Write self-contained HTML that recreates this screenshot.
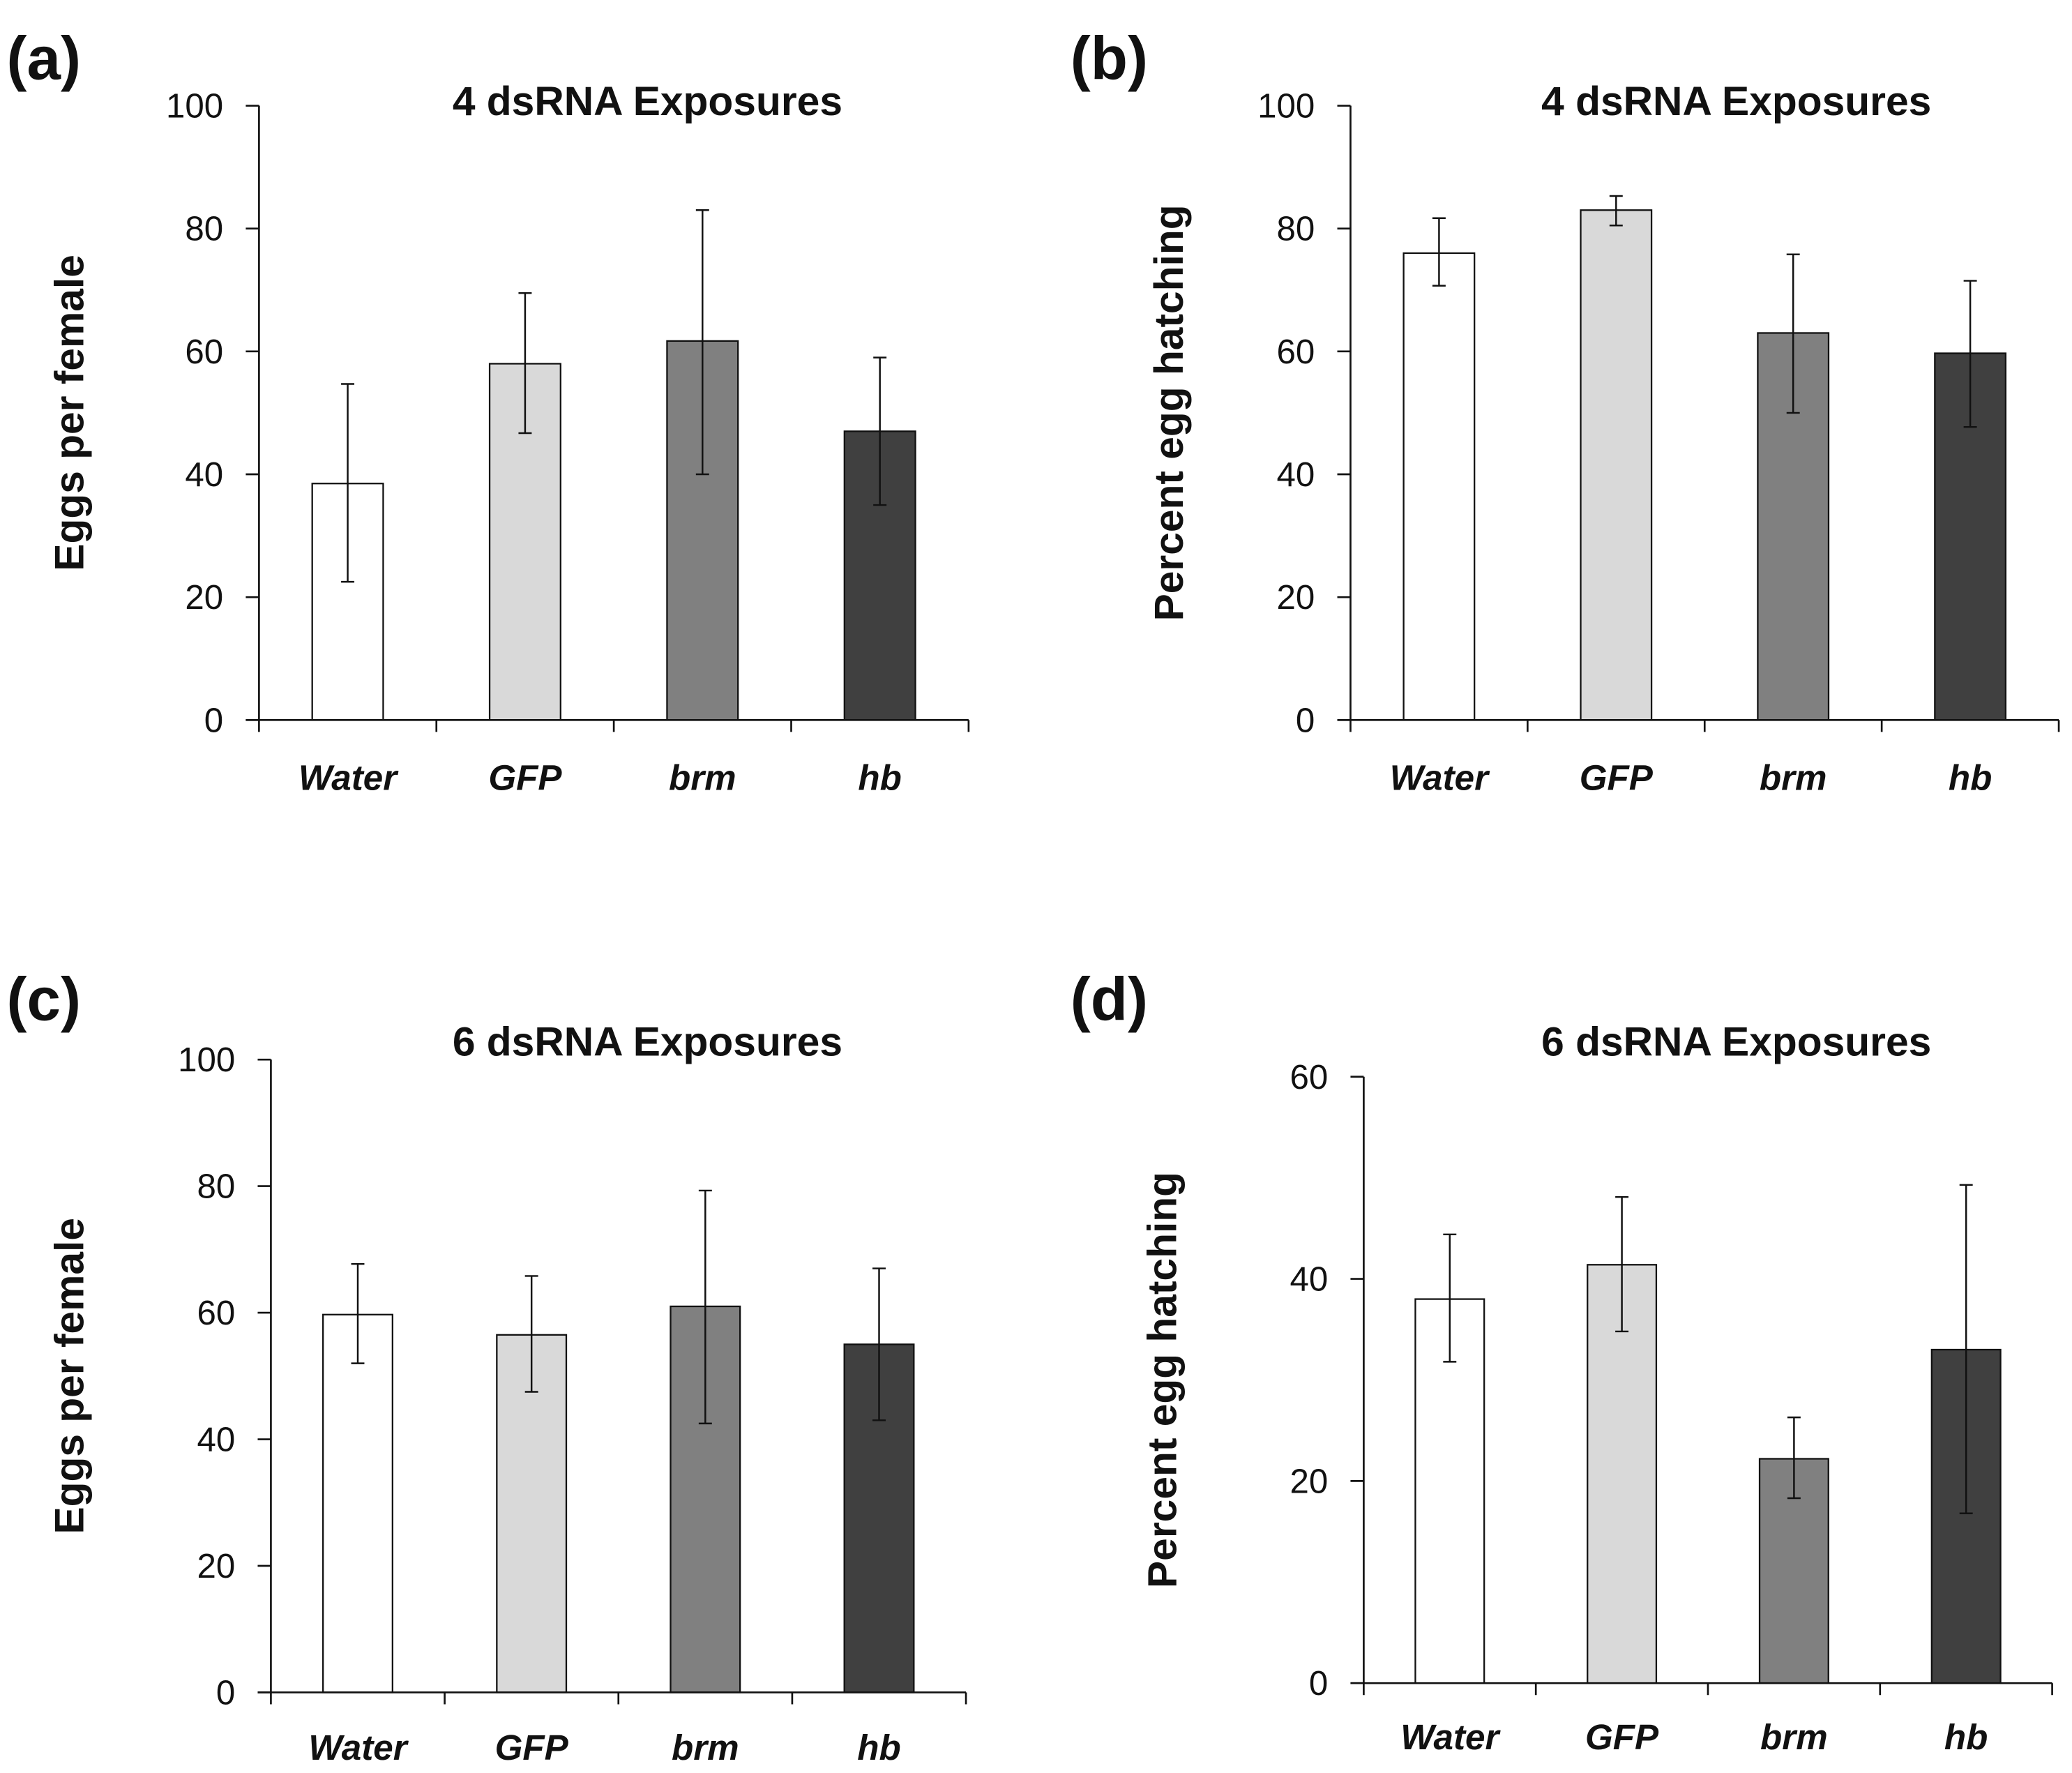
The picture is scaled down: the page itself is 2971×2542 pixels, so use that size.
<!DOCTYPE html>
<html><head><meta charset="utf-8"><style>
html,body{margin:0;padding:0;background:#fff}
svg{display:block}
text{font-family:"Liberation Sans",sans-serif;fill:#111}
</style></head><body>
<svg id="fig" width="2971" height="2542" viewBox="0 0 1568 1342" preserveAspectRatio="none" xmlns="http://www.w3.org/2000/svg"></svg>
<script>
const categories = ["Water","GFP","brm","hb"];
const fills = ["#ffffff","#d9d9d9","#808080","#404040"];
const valuesA = [38.5, 58, 61.7, 47];
const lowA = [22.5, 46.7, 40, 35];
const highA = [54.7, 69.5, 83, 59];
const valuesB = [76, 83, 63, 59.7];
const lowB = [70.7, 80.5, 50, 47.7];
const highB = [81.7, 85.3, 75.8, 71.5];
const valuesC = [59.7, 56.5, 61, 55];
const lowC = [52, 47.5, 42.5, 43];
const highC = [67.7, 65.8, 79.3, 67];
const valuesD = [38, 41.4, 22.2, 33];
const lowD = [31.8, 34.8, 18.3, 16.8];
const highD = [44.4, 48.1, 26.3, 49.3];
const ticks100 = [0,20,40,60,80,100];
const ticks60 = [0,20,40,60];

const NS="http://www.w3.org/2000/svg";
const svg=document.getElementById('fig');
function mk(tag,attrs,parent){const e=document.createElementNS(NS,tag);for(const k in attrs)e.setAttribute(k,attrs[k]);(parent||svg).appendChild(e);return e;}

function panel(id,letter,title,ylab,x0,x1,y0,yTop,ymax,ticks,vals,lo,hi,labY,ylabX,letterY,titleX){
  const g=mk('g',{});
  
  
  const ys=v=>y0-(v/ymax)*(y0-yTop);
  const cw=(x1-x0)/categories.length;
  const xc=i=>x0+cw*(i+0.5);
  const bw=cw*0.4;
  vals.forEach((v,i)=>{
    const r=mk('rect',{x:xc(i)-bw/2,y:ys(v),width:bw,height:y0-ys(v),fill:fills[i],stroke:'#111','stroke-width':1.2},g);
    
    
    const eb=mk('path',{d:`M${xc(i)} ${ys(lo[i])}V${ys(hi[i])}M${xc(i)-5} ${ys(lo[i])}H${xc(i)+5}M${xc(i)-5} ${ys(hi[i])}H${xc(i)+5}`,stroke:'#111','stroke-width':1.3,fill:'none'},g);
    
    
    const t=mk('text',{x:xc(i),y:labY,'text-anchor':'middle','font-size':27,'font-weight':'bold','font-style':'italic'},g);
    t.textContent=categories[i];
    
    
  });
  const ax=mk('path',{d:`M${x0} ${yTop}V${y0}M${x0-10} ${y0}H${x1}`,stroke:'#111','stroke-width':1.4,fill:'none'},g);
  
  
  for(let i=0;i<=categories.length;i++){
    mk('line',{x1:x0+cw*i,x2:x0+cw*i,y1:y0,y2:y0+9,stroke:'#111','stroke-width':1.4},g);
  }
  ticks.forEach(v=>{
    mk('line',{x1:x0-10,x2:x0,y1:ys(v),y2:ys(v),stroke:'#111','stroke-width':1.4},g);
    const t=mk('text',{x:x0-27,y:ys(v)+9,'text-anchor':'end','font-size':26},g);
    t.textContent=v;
    
    
  });
  const tt=mk('text',{x:titleX,y:letterY+13,'text-anchor':'middle','font-size':31,'font-weight':'bold'},g);
  tt.textContent=title;
  
  
  const yl=mk('text',{x:0,y:0,'text-anchor':'middle','font-size':31,'font-weight':'bold',transform:`translate(${ylabX},${(y0+yTop)/2}) rotate(-90)`},g);
  yl.textContent=ylab;
  
  
  const lt=mk('text',{x:letter.x,y:letterY-14,'font-size':46,'font-weight':'bold'},g);
  lt.textContent='('+id+')';
  
  
}
panel('a',{x:5},'4 dsRNA Exposures','Eggs per female',196,733,545,80,100,ticks100,valuesA,lowA,highA,598,63,74,490);
panel('b',{x:810},'4 dsRNA Exposures','Percent egg hatching',1022,1558,545,80,100,ticks100,valuesB,lowB,highB,598,895,74,1314);
panel('c',{x:5},'6 dsRNA Exposures','Eggs per female',205,731,1281,802,100,ticks100,valuesC,lowC,highC,1332,63,786,490);
panel('d',{x:810},'6 dsRNA Exposures','Percent egg hatching',1032,1553,1274,815,60,ticks60,valuesD,lowD,highD,1324,890,786,1314);
</script>
</body></html>
